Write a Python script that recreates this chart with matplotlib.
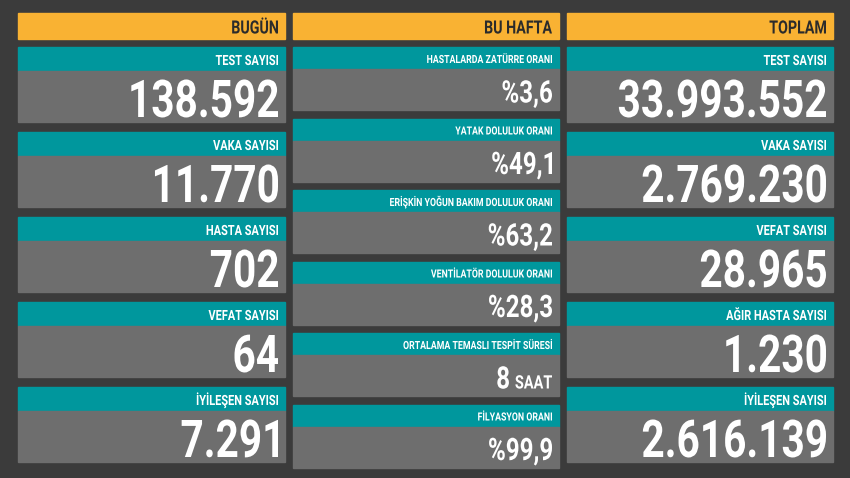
import matplotlib
matplotlib.use("Agg")
import matplotlib.pyplot as plt
from matplotlib.patches import Rectangle, PathPatch
from matplotlib.textpath import TextPath
from matplotlib.font_manager import FontProperties
from matplotlib.transforms import Affine2D

headers = ["BUGÜN", "BU HAFTA", "TOPLAM"]
today_labels = ["TEST SAYISI", "VAKA SAYISI", "HASTA SAYISI", "VEFAT SAYISI", "İYİLEŞEN SAYISI"]
today_values = ["138.592", "11.770", "702", "64", "7.291"]
week_labels = ["HASTALARDA ZATÜRRE ORANI", "YATAK DOLULUK ORANI", "ERİŞKİN YOĞUN BAKIM DOLULUK ORANI",
               "VENTİLATÖR DOLULUK ORANI", "ORTALAMA TEMASLI TESPİT SÜRESİ", "FİLYASYON ORANI"]
week_values = ["%3,6", "%49,1", "%63,2", "%28,3", "8 SAAT", "%99,9"]
total_labels = ["TEST SAYISI", "VAKA SAYISI", "VEFAT SAYISI", "AĞIR HASTA SAYISI", "İYİLEŞEN SAYISI"]
total_values = ["33.993.552", "2.769.230", "28.965", "1.230", "2.616.139"]

BG = "#3b3b3b"; OR = "#f9b233"; TEAL = "#00979d"; GRAY = "#6e6e6e"
PROP = FontProperties(family="Roboto", weight="bold")
H_EXT = TextPath((0, 0), "H", size=1, prop=PROP).get_extents()
CAP = H_EXT.height

fig = plt.figure(figsize=(8.5, 4.78), dpi=100, facecolor=BG)
ax = fig.add_axes([0, 0, 1, 1])
ax.set_xlim(0, 850); ax.set_ylim(478, 0); ax.axis("off")

def draw(s, xr, yc, cap_px, sx=0.78, color="white"):
    """Draw condensed text right-aligned at xr, caps centred at yc; returns left x."""
    p = TextPath((0, 0), s, size=1, prop=PROP)
    k = cap_px / CAP
    ext = p.get_extents()
    w = (ext.x1) * k * sx
    tr = Affine2D().scale(k * sx, -k).translate(xr - w, yc + cap_px / 2)
    ax.add_patch(PathPatch(tr.transform_path(p), facecolor=color, edgecolor="none", lw=0))
    return xr - w

cols = [(18, 285), (293, 559), (567, 833)]
for (x0, x1), h in zip(cols, headers):
    ax.add_patch(Rectangle((x0, 13), x1 - x0, 26, color=OR))
    draw(h, x1 - 7, 27, 13, color="#2b2b2b")

def column(x0, x1, labels, values, top, step, th, gh, lcap, vcap):
    for i, (l, v) in enumerate(zip(labels, values)):
        y = top + i * step
        ax.add_patch(Rectangle((x0, y), x1 - x0, th, color=TEAL))
        ax.add_patch(Rectangle((x0, y + th), x1 - x0, gh, color=GRAY))
        draw(l, x1 - 7, y + th / 2 + 1, lcap)
        yc = y + th + gh / 2 + 2
        parts = v.split(" ")
        if len(parts) == 2:
            left = draw(parts[1], x1 - 7, yc + vcap * 0.2, vcap * 0.6)
            draw(parts[0], left - 6, yc, vcap)
        else:
            draw(v, x1 - 7, yc, vcap)

column(*cols[0], today_labels, today_values, 47, 85, 24, 51, 10, 37)
column(*cols[1], week_labels, week_values, 47, 71.5, 22, 41, 8, 22)
column(*cols[2], total_labels, total_values, 47, 85, 24, 51, 10, 37)

fig.savefig("out.png", dpi=100, facecolor=BG)
